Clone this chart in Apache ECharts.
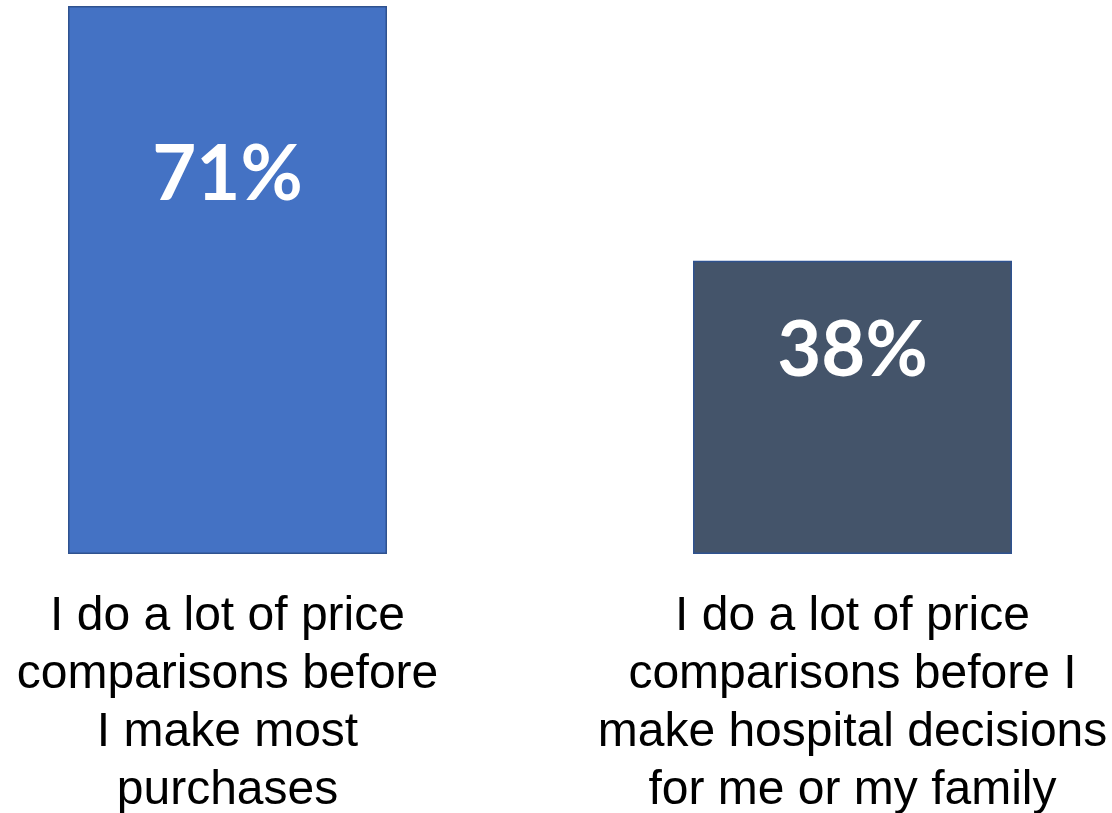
<!DOCTYPE html>
<html>
<head>
<meta charset="utf-8">
<script src="https://cdn.jsdelivr.net/npm/echarts@6/dist/echarts.min.js"></script>
<style>
  html, body { margin: 0; padding: 0; background: #fff; }
  #chart { width: 1112px; height: 813px; }
</style>
</head>
<body>
<div id="chart"></div>
<script>
// Data
const categories = [
    'I do a lot of price\ncomparisons before\nI make most\npurchases',
    'I do a lot of price\ncomparisons before I\nmake hospital decisions\nfor me or my family'
];
const values = [71, 38];
const barColors = ['#4472C4', '#44546A'];

const chart = echarts.init(document.getElementById('chart'));
const option = {
    animation: false,
    backgroundColor: '#ffffff',
    grid: {
        left: -85,
        width: 1250,
        top: 6,
        bottom: 259,
        containLabel: false,
        outerBoundsMode: 'none'
    },
    xAxis: {
        type: 'category',
        data: categories,
        axisLine: { show: false },
        axisTick: { show: false },
        axisLabel: {
            interval: 0,
            margin: 34,
            color: '#000000',
            fontFamily: 'Liberation Sans, Arial, sans-serif',
            fontSize: 48,
            lineHeight: 58,
            align: 'center'
        }
    },
    yAxis: {
        type: 'value',
        min: 0,
        max: 71,
        show: false
    },
    series: [
        {
            type: 'bar',
            barWidth: 319,
            data: values.map(function (v, i) {
                return {
                    value: v,
                    itemStyle: { color: barColors[i] }
                };
            }),
            itemStyle: {
                borderColor: '#2F528F',
                borderWidth: 1.5
            },
            label: {
                show: true,
                position: ['50%', '31%'],
                align: 'center',
                verticalAlign: 'middle',
                formatter: '{c}%',
                color: '#ffffff',
                fontFamily: 'Lato, Open Sans, sans-serif',
                fontWeight: 'bold',
                fontSize: 76
            }
        }
    ]
};
chart.setOption(option);
window.addEventListener('resize', function () {
    chart.resize();
});
</script>
</body>
</html>
